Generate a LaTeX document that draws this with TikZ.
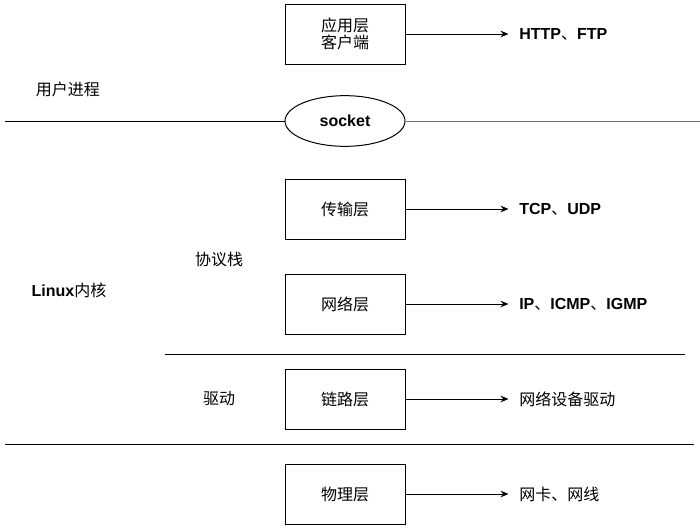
\documentclass[tikz,border=0pt]{standalone}
\usepackage{fontspec}
\setmainfont{Liberation Sans}
\newfontfamily\cjk{Noto Sans CJK SC}
\newcommand{\cj}[1]{{\mdseries\cjk #1}}
\usetikzlibrary{arrows.meta,shapes.geometric}
\begin{document}
\begin{tikzpicture}[x=0.75pt,y=-0.75pt,
  every node/.style={font=\fontsize{12}{15}\selectfont},
  layer/.style={draw=black,line width=0.75pt,minimum width=90pt,minimum height=45pt,inner sep=0pt,align=center,font=\fontsize{12}{15}\selectfont\cjk},
  lbl/.style={anchor=west,inner sep=0pt},
  side/.style={inner sep=0pt,font=\fontsize{12}{15}\selectfont\cjk},
  conn/.style={line width=0.75pt,-{Stealth[length=6pt,width=5pt]}},
  sep/.style={line width=0.75pt}]
\useasboundingbox (0,0) rectangle (700,529);
% boxes
\node[layer] (app) at (345,34) {应用层\\[-2pt]客户端};
\node[draw=black,line width=0.75pt,ellipse,minimum width=90pt,minimum height=38pt,inner sep=0pt,font=\fontsize{12}{15}\selectfont\bfseries] (sock) at (345,121) {socket};
\node[layer] (tcp) at (345,209) {传输层};
\node[layer] (ip) at (345,304) {网络层};
\node[layer] (link) at (345,399) {链路层};
\node[layer] (phy) at (345,494) {物理层};
% right labels
\node[lbl] (lapp) at (519,34) {\bfseries HTTP\cj{、}FTP};
\node[lbl] (ltcp) at (519,209) {\bfseries TCP\cj{、}UDP};
\node[lbl] (lip) at (519,304) {\bfseries IP\cj{、}ICMP\cj{、}IGMP};
\node[lbl,font=\fontsize{12}{15}\selectfont\cjk] (llink) at (519,399) {网络设备驱动};
\node[lbl,font=\fontsize{12}{15}\selectfont\cjk] (lphy) at (519,494) {网卡、网线};
% arrows
\draw[conn] (app.east) -- ++(103,0) coordinate (aapp);
\draw[conn] (tcp.east) -- ++(103,0) coordinate (atcp);
\draw[conn] (ip.east) -- ++(103,0) coordinate (aip);
\draw[conn] (link.east) -- ++(103,0) coordinate (alink);
\draw[conn] (phy.east) -- ++(103,0) coordinate (aphy);
% side labels
\node[side] (user) at (68,89) {用户进程};
\node[inner sep=0pt] (kern) at (69,290) {\bfseries Linux\cj{内核}};
\node[side] (stack) at (219,259) {协议栈};
\node[side] (drv) at (219,399) {驱动};
% separators
\coordinate (s1) at (5,121);
\coordinate (s2) at (700,121);
\draw[sep] (s1) -- (sock.west);
\draw[sep,draw=black!55] (sock.east) -- (s2);
\coordinate (d1) at (165,354);
\coordinate (d2) at (685,354);
\draw[sep] (d1) -- (d2);
\coordinate (p1) at (5,444);
\coordinate (p2) at (694,444);
\draw[sep] (p1) -- (p2);
\end{tikzpicture}
\end{document}
